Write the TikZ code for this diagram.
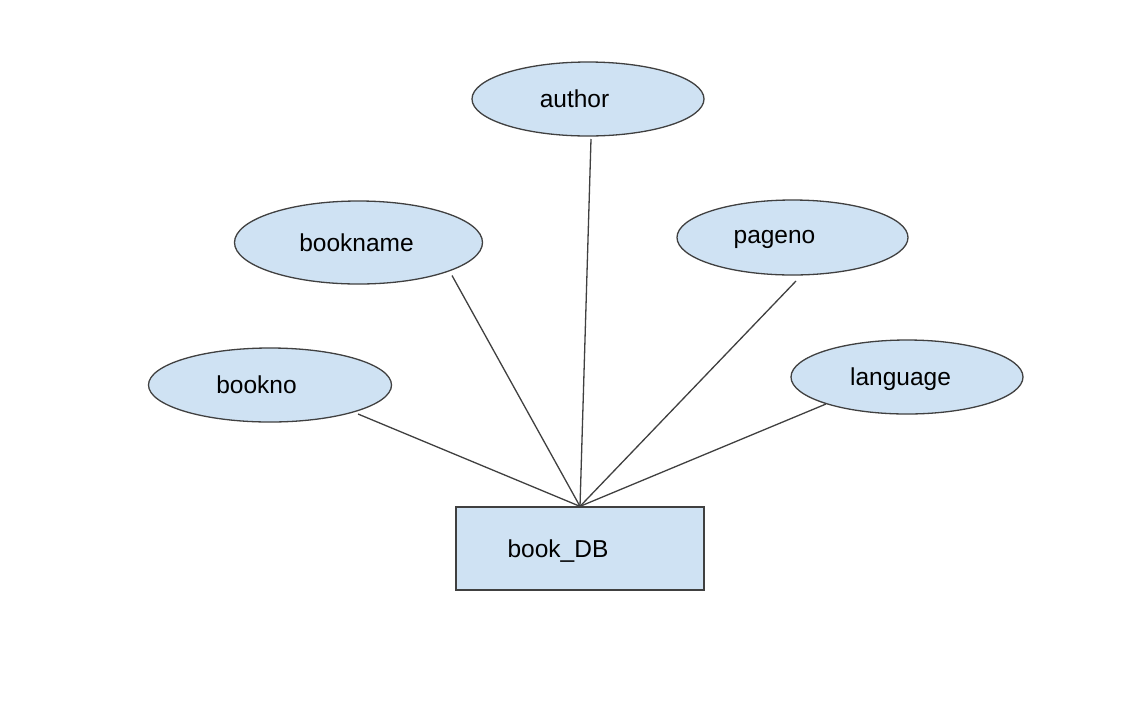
\documentclass[tikz,border=0pt]{standalone}
\usepackage{fontspec}
\setmainfont{Liberation Sans}
\usetikzlibrary{shapes.geometric,calc}
\definecolor{entfill}{HTML}{CFE2F3}
\definecolor{edge}{HTML}{404040}
\tikzset{
  attr/.style={ellipse, draw=edge, fill=entfill, line width=1.3pt, inner sep=0pt},
  ent/.style={rectangle, draw=edge, fill=entfill, line width=1.3pt, inner sep=0pt,
              minimum width=248pt, minimum height=83pt},
  txt/.style={font=\fontsize{24.5pt}{28pt}\selectfont, text=black, text height=17pt, text depth=0pt, inner sep=0pt},
  conn/.style={draw=edge, line width=1.3pt}
}
\begin{document}
\begin{tikzpicture}[x=1pt,y=-1pt]
\useasboundingbox (0,0) rectangle (1121,705);
\fill[white] (0,0) rectangle (1121,705);
\node[attr, minimum width=232pt, minimum height=74pt,
      label={[txt, xshift=-13.5pt]center:author}] (author) at (588,99) {};
\node[attr, minimum width=248pt, minimum height=83pt,
      label={[txt, xshift=-2pt]center:bookname}] (bookname) at (358.5,242.5) {};
\node[attr, minimum width=231pt, minimum height=75pt,
      label={[txt, xshift=-18pt, yshift=3pt]center:pageno}] (pageno) at (792.5,237.5) {};
\node[attr, minimum width=243pt, minimum height=74pt,
      label={[txt, xshift=-13.5pt]center:bookno}] (bookno) at (270,385) {};
\node[attr, minimum width=232pt, minimum height=74pt,
      label={[txt, xshift=-6.5pt]center:language}] (language) at (907,377) {};
\node[ent, label={[txt, xshift=-22pt]center:book\_DB}] (bookdb) at (580,548.5) {};
% connector start points just outside the ellipses
\coordinate (authorEnd) at ($(author.center)+(3,40)$);
\coordinate (booknameEnd) at ($(bookname.center)+(93.5,33)$);
\coordinate (pagenoEnd) at ($(pageno.center)+(3.5,43.5)$);
\coordinate (booknoEnd) at ($(bookno.center)+(88,29)$);
\coordinate (languageEnd) at ($(language.center)+(-81,27)$);
\draw[conn] (authorEnd) -- (bookdb.north);
\draw[conn] (booknameEnd) -- (bookdb.north);
\draw[conn] (pagenoEnd) -- (bookdb.north);
\draw[conn] (booknoEnd) -- (bookdb.north);
\draw[conn] (languageEnd) -- (bookdb.north);
\end{tikzpicture}
\end{document}
